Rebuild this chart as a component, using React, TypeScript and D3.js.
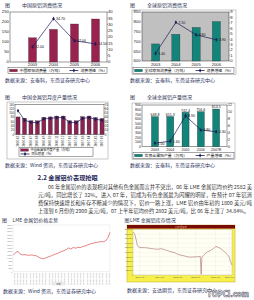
import React from "react";
import * as d3 from "d3";

const FONT = "'Noto Sans CJK SC', 'Noto Sans', sans-serif";
const NUMFONT = "'Liberation Sans', Arial, sans-serif";

// ---------- Chart 1: 中国原铝消费情况 ----------
const c1Years = ["2003", "2004", "2005", "2006"];
const c1Consumption = [121, 163, 190, 215];
const c1Growth = [12.0, 34.7, 17.0, 14.5];
const c1LeftTicks = [0, 50, 100, 150, 200, 250];
const c1RightTicks = [0, 5, 10, 15, 20, 25, 30, 35, 40];

// ---------- Chart 2: 全球原铝消费情况 ----------
const c2Years = ["2003", "2004", "2005", "2006"];
const c2Consumption = [687, 736, 771, 801];
const c2Growth = [1.4, 7.1, 4.8, 3.9];
const c2LeftTicks = [600, 650, 700, 750, 800, 850];
const c2RightTicks = [0, 1, 2, 3, 4, 5, 6, 7, 8, 9];

// ---------- Chart 3: 中国金属铝月度产量情况 ----------
const c3Months = [
  "2006-05", "2006-06", "2006-07", "2006-08", "2006-09", "2006-10", "2006-11",
  "2006-12", "2007-01", "2007-02", "2007-03", "2007-04", "2007-05", "2007-06",
];
const c3Output = [81, 75, 63, 63, 79, 81, 85, 85, 63, 63, 82, 85, 78, 73];
const c3Growth = [55, 33, 28, 27, 36, 37, 39, 39, 28, 27, 37, 39, 35, 33];
const c3LeftTicks = [0, 20, 40, 60, 80, 100, 120, 140];
const c3RightTicks = [0, 10, 20, 30, 40, 50, 60, 70];

// ---------- Chart 4: 全球金属铝产量情况 ----------
const c4Years = ["2003", "2004", "2005", "2006", "2007E"];
const c4Output = [648.8, 651.3, 742.4, 756.6, 813.5];
const c4Growth = [1.0, 1.6, 8.9, 4.8, 4.3];
const c4LeftTicks = [0, 100, 200, 300, 400, 500, 600, 700, 800, 900];
const c4RightTicks = [0, 2, 4, 6, 8, 10, 12];

// ---------- Chart 5: LME 金属铝价格走势 ----------
const c5Price = [
  1250, 1450, 1520, 1300, 1260, 1280, 1240, 1230, 1260, 1210, 1190, 1080, 1010,
  970, 1030, 1100, 1160, 1230, 1300, 1360, 1440, 1520, 1580, 1660, 1780, 1690,
  1820, 1760, 1830, 1800, 1880, 1920, 1990, 2060, 2110, 2150, 2180, 2230, 2250,
  2240, 2300, 2500, 2950,
];
const c5Ticks = [0, 250, 500, 750, 1000, 1250, 1500, 1750, 2000, 2250, 2500, 2750, 3000, 3250, 3500];
const c5DateLabels = [
  "2000-01", "2000-04", "2000-07", "2000-10", "2001-01", "2001-04", "2001-07",
  "2001-10", "2002-01", "2002-04", "2002-07", "2002-10", "2003-01", "2003-04",
  "2003-07", "2003-10", "2004-01", "2004-04", "2004-07", "2004-10", "2005-01",
  "2005-04", "2005-07", "2005-10", "2006-01", "2006-04", "2006-07", "2006-10",
  "2007-01", "2007-04", "2007-06",
];

// ---------- Chart 6: LME 金属铝库存情况 ----------
const c6Day = [
  0, 5, 10, 13, 17, 25, 35, 45, 55, 65, 75, 85, 95, 105, 115, 125, 135, 145, 155,
  165, 175, 185, 195, 203, 206, 208, 215, 225, 235, 243, 250, 255, 265, 275, 285,
  290, 295, 299,
];
const c6Stock = [
  1884, 1811, 1521, 1304, 1232, 1203, 1203, 1188, 1159, 1145, 1130, 1159, 1116,
  1072, 1014, 985, 913, 869, 840, 797, 782, 797, 797, 826, 30, 782, 898, 1014,
  1087, 1159, 1261, 1232, 1159, 1043, 898, 797, 580, 435,
];
const c6Ticks = [0, 200, 400, 600, 800, 1000, 1200, 1400, 1600, 1800, 2000];
const c6TickDays = [21, 81, 135, 189, 249, 291];
const c6TickLabels = ["2004-01", "2004-07", "2005-01", "2005-07", "2006-01", "2007-01"];

const paraLines = [
  "06 年金属铝价的表现相对其他有色金属而言并不突出，06 年 LME 金属铝均价约 2582 美",
  "元/吨，同比增长了 32%。进入 07 年，铝成为有色金属最为闪耀的明星，在预计 07 年铝消",
  "费保持快速增长和库存不断减少的情况下，铝价一路上涨，LME 铝价由年初的 1800 美元/吨",
  "上涨到 6 月份的 2900 美元/吨，07 上半年铝均价约 2802 美元/吨，比 06 年上涨了 34.84%。",
];

const TITLE_COLOR = "#2c3350";
const SRC_COLOR = "#28305a";
const LINE_COLOR = "#1b1b5a";

type Box = { x0: number; y0: number; x1: number; y1: number };

type ComboProps = {
  title: string;
  titleX: number;
  titleY: number;
  source: string;
  sourceY: number;
  sourceX: number;
  cats: string[];
  bars: number[];
  line: number[];
  leftDomain: [number, number];
  rightDomain: [number, number];
  leftTicks: number[];
  rightTicks: number[];
  frame: Box;
  plot: Box;
  band: [number, number];
  padIn: number;
  padOut: number;
  barColor: string;
  plotBg: string;
  legend1: string;
  legend2: string;
  legendBox: Box;
  twoRowLegend?: boolean;
  rotateX?: boolean;
  lineLabels?: boolean;
  barLabels?: boolean;
  tickFont: number;
  xLabelY: number;
  leftLabelX: number;
  rightLabelX: number;
  showFrame?: boolean;
};

function Combo(p: ComboProps) {
  const x = d3.scaleBand<string>().domain(p.cats).range(p.band).paddingInner(p.padIn).paddingOuter(p.padOut);
  const yL = d3.scaleLinear().domain(p.leftDomain).range([p.plot.y1, p.plot.y0]);
  const yR = d3.scaleLinear().domain(p.rightDomain).range([p.plot.y1, p.plot.y0]);
  const cx = (c: string) => (x(c) as number) + x.bandwidth() / 2;
  const path = d3
    .line<number>()
    .x((_, i) => cx(p.cats[i]))
    .y((v) => yR(v))(p.line) as string;
  const diamond = d3.symbol().type(d3.symbolDiamond).size(5)() as string;
  const lb = p.legendBox;
  const rowY1 = p.twoRowLegend ? lb.y0 + (lb.y1 - lb.y0) * 0.3 : (lb.y0 + lb.y1) / 2;
  const rowY2 = p.twoRowLegend ? lb.y0 + (lb.y1 - lb.y0) * 0.74 : (lb.y0 + lb.y1) / 2;
  const item2X = p.twoRowLegend ? lb.x0 + 1.5 : lb.x0 + (lb.x1 - lb.x0) * 0.62;
  const legFont = p.twoRowLegend ? 3.2 : 3.9;
  return (
    <g fontFamily={FONT}>
      <text x={p.titleX} y={p.titleY} fontSize={5} fill={TITLE_COLOR}>图</text>
      <text x={p.titleX + 17} y={p.titleY} fontSize={5} fill={TITLE_COLOR}>{p.title}</text>
      {p.showFrame !== false && (
        <rect x={p.frame.x0} y={p.frame.y0} width={p.frame.x1 - p.frame.x0} height={p.frame.y1 - p.frame.y0}
          fill="none" stroke="#777" strokeWidth={0.4} />
      )}
      <rect x={p.plot.x0} y={p.plot.y0} width={p.plot.x1 - p.plot.x0} height={p.plot.y1 - p.plot.y0}
        fill={p.plotBg} stroke="#222" strokeWidth={0.45} />
      {p.cats.map((c, i) => (
        <rect key={c} x={x(c)} y={yL(p.bars[i])} width={x.bandwidth()} height={yL(p.leftDomain[0]) - yL(p.bars[i])}
          fill={p.barColor} stroke="#222" strokeWidth={0.3} />
      ))}
      {p.barLabels &&
        p.cats.map((c, i) => (
          <text key={"bl" + c} x={cx(c)} y={yL(p.bars[i]) - 0.8} fontSize={3.6} textAnchor="middle"
            fontFamily={NUMFONT} fill="#111">{p.bars[i].toFixed(1)}</text>
        ))}
      <path d={path} fill="none" stroke={LINE_COLOR} strokeWidth={0.7} />
      {p.cats.map((c, i) => (
        <path key={"m" + c} d={diamond} transform={`translate(${cx(c)},${yR(p.line[i])})`} fill={LINE_COLOR} />
      ))}
      {p.lineLabels &&
        p.cats.map((c, i) => (
          <text key={"ll" + c} x={cx(c) + 2.5} y={yR(p.line[i]) + 1.4} fontSize={3.6}
            fontFamily={NUMFONT} fill="#111">{p.line[i].toFixed(2)}</text>
        ))}
      {p.leftTicks.map((t) => (
        <text key={"lt" + t} x={p.leftLabelX} y={yL(t) + 1.3} fontSize={p.tickFont} textAnchor="end"
          fontFamily={NUMFONT} fill="#222">{t}</text>
      ))}
      {p.rightTicks.map((t) => (
        <g key={"rt" + t}>
          <line x1={p.plot.x1} x2={p.plot.x1 + 1} y1={yR(t)} y2={yR(t)} stroke="#222" strokeWidth={0.3} />
          <text x={p.rightLabelX} y={yR(t) + 1.3} fontSize={p.tickFont} fontFamily={NUMFONT} fill="#222">{t}</text>
        </g>
      ))}
      {p.cats.map((c) =>
        p.rotateX ? (
          <text key={"x" + c} transform={`translate(${cx(c) + 1},${p.xLabelY}) rotate(-90)`} fontSize={3}
            textAnchor="end" fontFamily={NUMFONT} fill="#222">{c}</text>
        ) : (
          <text key={"x" + c} x={cx(c)} y={p.xLabelY} fontSize={p.tickFont} textAnchor="middle"
            fontFamily={NUMFONT} fill="#222">{c}</text>
        )
      )}
      <rect x={lb.x0} y={lb.y0} width={lb.x1 - lb.x0} height={lb.y1 - lb.y0} fill="#fff" stroke="#222" strokeWidth={0.4} />
      <rect x={lb.x0 + 1.5} y={rowY1 - 1.3} width={8} height={2.6} fill={p.barColor} stroke="#222" strokeWidth={0.2} />
      <text x={lb.x0 + 11.5} y={rowY1 + legFont * 0.36} fontSize={legFont} fill="#111">{p.legend1}</text>
      <line x1={item2X} x2={item2X + 9} y1={rowY2} y2={rowY2} stroke={LINE_COLOR} strokeWidth={0.8} />
      <path d={diamond} transform={`translate(${item2X + 4.5},${rowY2})`} fill={LINE_COLOR} />
      <text x={item2X + 11} y={rowY2 + legFont * 0.36} fontSize={legFont} fill="#111">{p.legend2}</text>
      <text x={p.sourceX} y={p.sourceY} fontSize={5} fill={SRC_COLOR}>{p.source}</text>
    </g>
  );
}

function PriceChart() {
  const plot = { x0: 13, x1: 110, y0: 225, y1: 271.7 };
  const x = d3.scaleLinear().domain([0, c5Price.length - 1]).range([plot.x0 + 0.5, plot.x1]);
  const y = d3.scaleLinear().domain([0, 3500]).range([plot.y1, plot.y0]);
  const xl = d3.scalePoint<string>().domain(c5DateLabels).range([plot.x0 + 1, plot.x1 - 1]);
  const path = d3.line<number>().x((_, i) => x(i)).y((v) => y(v))(c5Price) as string;
  return (
    <g fontFamily={FONT}>
      <text x={2} y={222} fontSize={5} fill={TITLE_COLOR}>图</text>
      <text x={12.5} y={222} fontSize={5} fill={TITLE_COLOR}>LME 金属铝价格走势</text>
      <rect x={plot.x0} y={plot.y0} width={plot.x1 - plot.x0} height={plot.y1 - plot.y0} fill="#fff" stroke="#ccc" strokeWidth={0.3} />
      {c5Ticks.map((t) => (
        <text key={t} x={plot.x0 - 0.6} y={y(t) + 0.8} fontSize={2.3} textAnchor="end" fontFamily={NUMFONT} fill="#888">{t}</text>
      ))}
      {c5DateLabels.map((d) => (
        <text key={d} transform={`translate(${(xl(d) as number) + 0.8},${plot.y1 + 0.8}) rotate(-90)`} fontSize={2.4}
          textAnchor="end" fontFamily={NUMFONT} fill="#888">{d + "-01"}</text>
      ))}
      <rect x={52} y={282.6} width={13} height={2.4} fill="#eee" stroke="#bbb" strokeWidth={0.2} />
      <text x={58.5} y={284.6} fontSize={2.2} textAnchor="middle" fill="#666">日期</text>
      <path d={path} fill="none" stroke="#d02020" strokeWidth={0.55} />
      <text x={3} y={292.5} fontSize={5} fill={SRC_COLOR}>数据来源：Wind 资讯，东莞证券研究中心</text>
    </g>
  );
}

function StockChart() {
  const frame = { x0: 127, x1: 235, y0: 225, y1: 282 };
  const plot = { x0: 133, x1: 232, y0: 229.5, y1: 275 };
  const x = d3.scaleLinear().domain([0, 299]).range([plot.x0, plot.x1]);
  const y = d3.scaleLinear().domain([0, 2000]).range([plot.y1, plot.y0]);
  const path = d3
    .line<number>()
    .x((_, i) => x(c6Day[i]))
    .y((v) => y(v))(c6Stock) as string;
  return (
    <g fontFamily={FONT}>
      <text x={124.5} y={222} fontSize={5} fill={TITLE_COLOR}>图</text>
      <text x={130} y={222} fontSize={5} fill={TITLE_COLOR}>LME 金属铝库存情况</text>
      <rect x={frame.x0} y={frame.y0} width={frame.x1 - frame.x0} height={frame.y1 - frame.y0} fill="#f7ef4a" stroke="#b8a828" strokeWidth={0.5} />
      <rect x={frame.x0} y={frame.y0} width={frame.x1 - frame.x0} height={3.6} fill="#7a0a0a" />
      <text x={(frame.x0 + frame.x1) / 2} y={frame.y0 + 2.6} fontSize={2.2} textAnchor="middle" fill="#f0d0a0">LME 铝库存</text>
      <rect x={plot.x0} y={plot.y0} width={plot.x1 - plot.x0} height={plot.y1 - plot.y0} fill="#fffff4" stroke="#999" strokeWidth={0.3} />
      {c6Ticks.map((t) => (
        <g key={t}>
          <line x1={plot.x0} x2={plot.x1} y1={y(t)} y2={y(t)} stroke="#ddd" strokeWidth={0.25} />
          <text x={plot.x0 - 0.5} y={y(t) + 0.7} fontSize={2} textAnchor="end" fontFamily={NUMFONT} fill="#555">{t * 1000}</text>
        </g>
      ))}
      {c6TickDays.map((d, i) => (
        <g key={d}>
          <line x1={x(d)} x2={x(d)} y1={plot.y0} y2={plot.y1} stroke="#ddd" strokeWidth={0.25} />
          <text x={x(d)} y={plot.y1 + 3} fontSize={2.4} textAnchor="middle" fontFamily={NUMFONT} fill="#555">{c6TickLabels[i]}</text>
        </g>
      ))}
      <path d={path} fill="none" stroke="#a86a6a" strokeWidth={0.6} />
      <text x={127} y={291.5} fontSize={5} fill={SRC_COLOR}>数据来源：安达期货，东莞证券研究中心</text>
    </g>
  );
}

export default function App() {
  return (
    <svg width={254} height={300} style={{ position: "absolute", left: 0, top: 0, background: "#fff" }}>
      <rect x={0} y={0} width={254} height={300} fill="#fff" />
      <Combo
        title="中国原铝消费情况" titleX={5} titleY={6.5}
        source="数据来源：安泰科，东莞证券研究中心" sourceX={5} sourceY={81.5}
        cats={c1Years} bars={c1Consumption} line={c1Growth}
        leftDomain={[0, 250]} rightDomain={[0, 40]} leftTicks={c1LeftTicks} rightTicks={c1RightTicks}
        frame={{ x0: 1.5, y0: 9.5, x1: 116, y1: 75 }} plot={{ x0: 10, y0: 12, x1: 107, y1: 62 }}
        band={[22, 106]} padIn={0.62} padOut={0.31}
        barColor="#99224f" plotBg="#fff"
        legend1="中国原铝消费量（万吨）" legend2="消费增速（%）"
        legendBox={{ x0: 8, y0: 67.5, x1: 107, y1: 73.5 }}
        lineLabels tickFont={4.2} xLabelY={66.3} leftLabelX={8.8} rightLabelX={108} showFrame={false}
      />
      <Combo
        title="全球原铝消费情况" titleX={130} titleY={6.5}
        source="数据来源：安泰科，东莞证券研究中心" sourceX={130} sourceY={81.5}
        cats={c2Years} bars={c2Consumption} line={c2Growth}
        leftDomain={[600, 850]} rightDomain={[0, 9]} leftTicks={c2LeftTicks} rightTicks={c2RightTicks}
        frame={{ x0: 132, y0: 10, x1: 236, y1: 74.5 }} plot={{ x0: 142, y0: 12, x1: 229, y1: 61 }}
        band={[145.5, 226.5]} padIn={0.6} padOut={0.3}
        barColor="#12847a" plotBg="#c0c0c0"
        legend1="全球原铝消费量（万吨）" legend2="消费增速（%）"
        legendBox={{ x0: 133, y0: 67.5, x1: 234, y1: 73.5 }}
        lineLabels tickFont={4.2} xLabelY={66.3} leftLabelX={140.5} rightLabelX={230.3}
      />
      <Combo
        title="中国金属铝月度产量情况" titleX={5} titleY={98.5}
        source="数据来源：Wind 资讯，东莞证券研究中心" sourceX={5} sourceY={166.5}
        cats={c3Months} bars={c3Output} line={c3Growth}
        leftDomain={[0, 140]} rightDomain={[0, 70]} leftTicks={c3LeftTicks} rightTicks={c3RightTicks}
        frame={{ x0: 7, y0: 102, x1: 108, y1: 159 }} plot={{ x0: 15, y0: 104.3, x1: 104, y1: 134.3 }}
        band={[14.8, 105.2]} padIn={0.38} padOut={0.19}
        barColor="#8b2252" plotBg="#fff"
        legend1="中国金属铝月度产量（万吨）" legend2="同比增速（%）"
        legendBox={{ x0: 19, y0: 147.3, x1: 93, y1: 156.3 }} twoRowLegend rotateX
        tickFont={3} xLabelY={135.6} leftLabelX={14.2} rightLabelX={104.8}
      />
      <Combo
        title="全球金属铝产量情况" titleX={130} titleY={98.5}
        source="数据来源：安泰科，东莞证券研究中心" sourceX={130} sourceY={166.5}
        cats={c4Years} bars={c4Output} line={c4Growth}
        leftDomain={[0, 900]} rightDomain={[0, 12]} leftTicks={c4LeftTicks} rightTicks={c4RightTicks}
        frame={{ x0: 132, y0: 103, x1: 235, y1: 159.5 }} plot={{ x0: 142, y0: 105, x1: 227, y1: 146.7 }}
        band={[147.3, 223.8]} padIn={0.54} padOut={0.27}
        barColor="#12847a" plotBg="#fff"
        legend1="世界金属铝产量（万吨）" legend2="产量增速（%）"
        legendBox={{ x0: 133, y0: 152.5, x1: 234, y1: 158.5 }}
        lineLabels barLabels tickFont={3.6} xLabelY={151} leftLabelX={141} rightLabelX={228}
      />
      <g fontFamily={FONT}>
        <text x={37.5} y={180} fontSize={6.2} fontWeight="bold" fill="#1f2a5a">2.2 金属铝价表现抢眼</text>
        {paraLines.map((l, i) => (
          <text key={i} x={i === 0 ? 48 : 38} y={188.5 + i * 8} fontSize={5.2} fill="#333"
            textLength={i === 0 ? 204 : i === 3 ? 211 : 214} lengthAdjust="spacingAndGlyphs">{l}</text>
        ))}
      </g>
      <PriceChart />
      <StockChart />
      <text x={207} y={296.5} fontSize={8.5} fontWeight="bold" fontFamily="'Liberation Sans Narrow', 'DejaVu Sans Condensed', sans-serif"
        fill="#fff" stroke="#556" strokeWidth={0.6} textLength={42} lengthAdjust="spacingAndGlyphs">TOPCI.com</text>
    </svg>
  );
}
